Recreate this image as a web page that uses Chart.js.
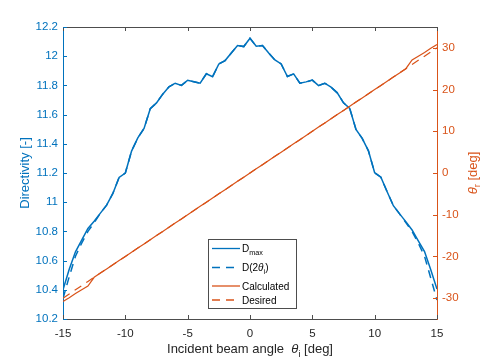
<!DOCTYPE html>
<html>
<head>
<meta charset="utf-8">
<script src="https://cdn.jsdelivr.net/npm/chart.js@4.4.1/dist/chart.umd.min.js"></script>
<style>
  html, body { margin: 0; padding: 0; background: #fff; }
  #wrap { width: 485px; height: 363px; position: relative; }
</style>
</head>
<body>
<div id="wrap"><canvas id="myChart"></canvas></div>
<script>
/* 入射角 theta_i [deg] */
const thetaI = [-15,-14.5,-14,-13.5,-13,-12.5,-12,-11.5,-11,-10.5,-10,-9.5,-9,-8.5,-8,-7.5,-7,-6.5,-6,-5.5,-5,-4.5,-4,-3.5,-3,-2.5,-2,-1.5,-1,-0.5,0,
  0.5,1,1.5,2,2.5,3,3.5,4,4.5,5,5.5,6,6.5,7,7.5,8,8.5,9,9.5,10,10.5,11,11.5,12,12.5,13,13.5,14,14.5,15];

/* Directivity (左軸) */
const dMax = [10.40,10.54,10.66,10.74,10.82,10.87,10.925,10.98,11.06,11.17,11.20,11.35,11.44,11.505,11.64,11.68,11.74,11.79,11.815,11.80,11.835,11.825,11.815,11.88,11.86,11.947,11.97,12.022,12.073,12.066,12.123,
  12.068,12.073,12.022,11.974,11.947,11.861,11.879,11.815,11.824,11.836,11.799,11.815,11.788,11.749,11.681,11.642,11.499,11.437,11.352,11.202,11.171,11.072,10.976,10.920,10.867,10.810,10.735,10.662,10.537,10.405];
const dTwoTheta = [10.34,10.49,10.63,10.72,10.80,10.86,10.925,10.98,11.06,11.17,11.20,11.35,11.44,11.505,11.64,11.68,11.74,11.79,11.815,11.80,11.835,11.825,11.815,11.88,11.86,11.947,11.97,12.022,12.073,12.066,12.123,
  12.068,12.073,12.022,11.974,11.947,11.861,11.879,11.815,11.824,11.836,11.799,11.815,11.788,11.749,11.681,11.642,11.499,11.437,11.352,11.202,11.171,11.072,10.976,10.920,10.86,10.80,10.72,10.63,10.48,10.33];

/* 反射角 theta_r [deg] (右軸) */
const thetaCalc = [-30.8,-29.9,-28.9,-28.0,-27.1,-25,-24,-23,-22,-21,-20,-19,-18,-17,-16,-15,-14,-13,-12,-11,-10,-9,-8,-7,-6,-5,-4,-3,-2,-1,0,
  1,2,3,4,5,6,7,8,9,10,11,12,13,14,15,16,17,18,19,20,21,22,23,24,25,27.1,28.0,28.9,29.9,30.8];
const thetaDesired = [-30,-29,-28,-27,-26,-25,-24,-23,-22,-21,-20,-19,-18,-17,-16,-15,-14,-13,-12,-11,-10,-9,-8,-7,-6,-5,-4,-3,-2,-1,0,
  1,2,3,4,5,6,7,8,9,10,11,12,13,14,15,16,17,18,19,20,21,22,23,24,25,26,27,28,29,30];

/* 目盛り */
const xTicks = [-15,-10,-5,0,5,10,15];
const yLeftTicks = [10.2,10.4,10.6,10.8,11,11.2,11.4,11.6,11.8,12,12.2];
const yLeftLabels = ['10.2','10.4','10.6','10.8','11','11.2','11.4','11.6','11.8','12','12.2'];
const yRightTicks = [-30,-20,-10,0,10,20,30];

const BLUE = '#0072BD';
const ORANGE = '#D95319';
const DARK = '#262626';
const FONT = '"Liberation Sans", Arial, Helvetica, sans-serif';

function pts(xs, ys) {
  return xs.map(function (x, i) { return { x: x, y: ys[i] }; });
}

/* 添字付きの文字列を描く */
function richWidth(ctx, parts, size) {
  let w = 0;
  parts.forEach(function (p) {
    const s = p.sub ? size * 0.72 : size;
    ctx.font = (p.it ? 'italic ' : '') + s + 'px ' + FONT;
    w += ctx.measureText(p.t).width;
  });
  return w;
}
function drawRich(ctx, parts, x, y, size) {
  ctx.textBaseline = 'alphabetic';
  ctx.textAlign = 'left';
  parts.forEach(function (p) {
    const s = p.sub ? size * 0.72 : size;
    ctx.font = (p.it ? 'italic ' : '') + s + 'px ' + FONT;
    ctx.fillText(p.t, x, y + (p.sub ? size * 0.3 : 0));
    x += ctx.measureText(p.t).width;
  });
}

const extras = {
  id: 'extras',
  afterDatasetsDraw(chart) {
    const ctx = chart.ctx;
    const a = chart.chartArea;
    const sx = chart.scales.x, sy = chart.scales.y, sy2 = chart.scales.y2;
    const tl = 4;
    ctx.save();
    ctx.lineWidth = 1;

    // 上の枠線
    ctx.strokeStyle = '#4d4d4d';
    ctx.beginPath();
    ctx.moveTo(a.left, a.top + 0.5);
    ctx.lineTo(a.right, a.top + 0.5);
    ctx.stroke();

    // 内向きの目盛り
    ctx.beginPath();
    xTicks.forEach(function (v) {
      const px = Math.round(sx.getPixelForValue(v)) + 0.5;
      ctx.moveTo(px, a.bottom); ctx.lineTo(px, a.bottom - tl);
      ctx.moveTo(px, a.top); ctx.lineTo(px, a.top + tl);
    });
    ctx.stroke();
    ctx.strokeStyle = BLUE;
    ctx.beginPath();
    yLeftTicks.forEach(function (v) {
      const py = Math.round(sy.getPixelForValue(v)) + 0.5;
      ctx.moveTo(a.left, py); ctx.lineTo(a.left + tl, py);
    });
    ctx.stroke();
    ctx.strokeStyle = ORANGE;
    ctx.beginPath();
    yRightTicks.forEach(function (v) {
      const py = Math.round(sy2.getPixelForValue(v)) + 0.5;
      ctx.moveTo(a.right, py); ctx.lineTo(a.right - tl, py);
    });
    ctx.stroke();

    // 軸ラベル
    const xt = [{ t: 'Incident beam angle  ' }, { t: 'θ', it: true }, { t: 'i', sub: true }, { t: ' [deg]' }];
    ctx.fillStyle = DARK;
    drawRich(ctx, xt, 250 - richWidth(ctx, xt, 13) / 2, 353, 13);

    const yt = [{ t: 'Directivity [-]' }];
    ctx.fillStyle = BLUE;
    ctx.save();
    ctx.translate(24, 173);
    ctx.rotate(-Math.PI / 2);
    drawRich(ctx, yt, -richWidth(ctx, yt, 13) / 2, 4.5, 13);
    ctx.restore();

    const rt = [{ t: 'θ', it: true }, { t: 'r', sub: true }, { t: ' [deg]' }];
    ctx.fillStyle = ORANGE;
    ctx.save();
    ctx.translate(472, 173);
    ctx.rotate(-Math.PI / 2);
    drawRich(ctx, rt, -richWidth(ctx, rt, 13) / 2, 4.5, 13);
    ctx.restore();

    // 凡例
    ctx.fillStyle = '#fff';
    ctx.fillRect(208.5, 239.5, 88, 69);
    ctx.strokeStyle = '#4d4d4d';
    ctx.strokeRect(208.5, 239.5, 88, 69);
    const rows = [
      { y: 248.5, c: BLUE, dash: [], txt: [{ t: 'D' }, { t: 'max', sub: true }] },
      { y: 267.5, c: BLUE, dash: [8, 6], txt: [{ t: 'D(2' }, { t: 'θ', it: true }, { t: 'i', sub: true }, { t: ')' }] },
      { y: 286, c: ORANGE, dash: [], txt: [{ t: 'Calculated' }] },
      { y: 300, c: ORANGE, dash: [8, 6], txt: [{ t: 'Desired' }] }
    ];
    rows.forEach(function (r) {
      ctx.strokeStyle = r.c;
      ctx.lineWidth = 1.3;
      ctx.setLineDash(r.dash);
      ctx.beginPath();
      ctx.moveTo(212, r.y); ctx.lineTo(240, r.y);
      ctx.stroke();
      ctx.setLineDash([]);
      ctx.fillStyle = '#000';
      drawRich(ctx, r.txt, 242, r.y + 3.6, 10);
    });
    ctx.restore();
  }
};

let ctx = document.getElementById('myChart').getContext('2d');
let myChart = new Chart(ctx, {
  type: 'line',
  data: {
    datasets: [
      { label: 'Dmax', data: pts(thetaI, dMax), yAxisID: 'y', borderColor: BLUE, borderWidth: 1.5, order: 4 },
      { label: 'D(2θi)', data: pts(thetaI, dTwoTheta), yAxisID: 'y', borderColor: BLUE, borderWidth: 1.5, borderDash: [8, 6], order: 3 },
      { label: 'Calculated', data: pts(thetaI, thetaCalc), yAxisID: 'y2', borderColor: ORANGE, borderWidth: 1.2, order: 2 },
      { label: 'Desired', data: pts(thetaI, thetaDesired), yAxisID: 'y2', borderColor: ORANGE, borderWidth: 1.2, borderDash: [8, 6], order: 1 }
    ]
  },
  options: {
    responsive: true,
    maintainAspectRatio: false,
    animation: false,
    layout: { padding: { top: 27, left: 0, right: 0, bottom: 0 } },
    elements: { point: { radius: 0 }, line: { tension: 0, fill: false } },
    plugins: { legend: { display: false }, tooltip: { enabled: false } },
    scales: {
      x: {
        type: 'linear', min: -15, max: 15,
        afterBuildTicks: function (s) { s.ticks = xTicks.map(function (v) { return { value: v }; }); },
        afterFit: function (s) { s.height = 44; },
        grid: { drawOnChartArea: false, drawTicks: false },
        border: { display: true, color: '#4d4d4d' },
        ticks: { color: DARK, padding: 8, autoSkip: false, maxRotation: 0, font: { family: FONT, size: 11.5 } }
      },
      y: {
        type: 'linear', position: 'left', min: 10.2, max: 12.2,
        afterBuildTicks: function (s) { s.ticks = yLeftTicks.map(function (v) { return { value: v }; }); },
        afterFit: function (s) { s.width = 63; },
        grid: { drawOnChartArea: false, drawTicks: false },
        border: { display: true, color: BLUE },
        ticks: {
          color: BLUE, padding: 5, autoSkip: false, font: { family: FONT, size: 11.5 },
          callback: function (v, i) { return yLeftLabels[i]; }
        }
      },
      y2: {
        type: 'linear', position: 'right', min: -35, max: 35,
        afterBuildTicks: function (s) { s.ticks = yRightTicks.map(function (v) { return { value: v }; }); },
        afterFit: function (s) { s.width = 48; },
        grid: { drawOnChartArea: false, drawTicks: false },
        border: { display: true, color: ORANGE },
        ticks: { color: ORANGE, padding: 5, autoSkip: false, font: { family: FONT, size: 11.5 } }
      }
    }
  },
  plugins: [extras]
});
</script>
</body>
</html>
